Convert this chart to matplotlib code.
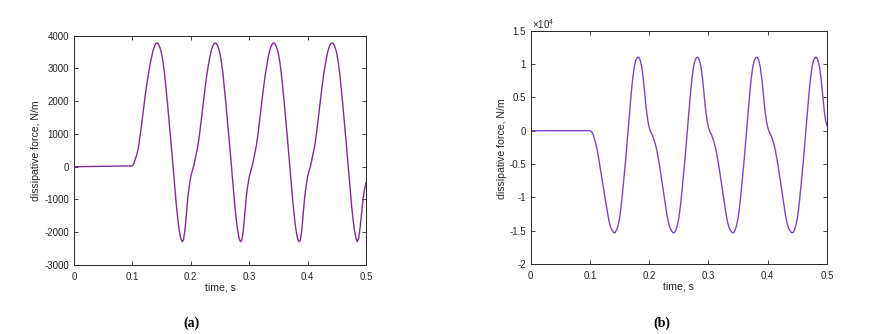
import numpy as np
import matplotlib
matplotlib.use("Agg")
import matplotlib.pyplot as plt
from matplotlib.ticker import FuncFormatter

plt.rcParams['font.family'] = ['Liberation Sans', 'DejaVu Sans']
plt.rcParams['mathtext.fontset'] = 'custom'
plt.rcParams['mathtext.rm'] = 'Liberation Sans'

# ---------------- data ----------------
time_flat = [0.0, 0.02, 0.04, 0.06, 0.08, 0.09, 0.095]
time_osc = np.round(np.arange(0.1, 0.50001, 0.0025), 4)
time = np.concatenate([time_flat, time_osc])

# (a) dissipative force, N/m
force_a_flat = [0, 5, 10, 15, 20, 22, 22]
force_a_c1 = [25, 100, 230, 370, 550, 860, 1180, 1540, 1900, 2250, 2560, 2840, 3100, 3320, 3520, 3670, 3760, 3780,
              3730, 3620, 3450, 3190, 2850, 2410, 1950, 1460, 960, 450, -80, -620, -1120, -1560, -1920, -2170,
              -2290, -2240, -1930, -1430, -930, -580]
force_a_c2 = [-300, -130, 20, 230, 450, 670, 990, 1360, 1740, 2120, 2480, 2810, 3090, 3340, 3540, 3680, 3760, 3780,
              3730, 3620, 3450, 3190, 2850, 2410, 1950, 1460, 960, 450, -80, -620, -1120, -1560, -1920, -2170,
              -2290, -2240, -1930, -1430, -930, -580]
force_a_c3 = [-310, -140, 20, 220, 440, 670, 980, 1350, 1740, 2120, 2480, 2800, 3090, 3340, 3540, 3680, 3760, 3780,
              3730, 3620, 3450, 3190, 2850, 2420, 1960, 1470, 960, 450, -80, -620, -1120, -1560, -1920, -2170,
              -2290, -2250, -1940, -1440, -930, -580]
force_a_c4 = [-300, -130, 20, 230, 450, 670, 990, 1360, 1740, 2120, 2480, 2810, 3090, 3340, 3540, 3680, 3760, 3780,
              3730, 3620, 3450, 3190, 2850, 2410, 1950, 1460, 960, 450, -80, -620, -1120, -1560, -1920, -2170,
              -2290, -2180, -1850, -1400, -980, -700, -480]
force_a = np.array(force_a_flat + force_a_c1 + force_a_c2 + force_a_c3 + force_a_c4, dtype=float)

# (b) dissipative force in units of 1e4 N/m
force_b_flat = [0, 0, 0, 0, 0, 0, 0]
force_b_c1 = [0.00, -0.01, -0.05, -0.12, -0.20, -0.30, -0.43, -0.57, -0.71, -0.84, -0.98, -1.12, -1.25, -1.37,
              -1.45, -1.50, -1.53, -1.53, -1.49, -1.42,
              -1.31, -1.14, -0.93, -0.70, -0.46, -0.20, 0.07, 0.34, 0.60, 0.81, 0.97, 1.06, 1.10, 1.10, 1.05,
              0.95, 0.78, 0.55, 0.33, 0.16]
force_b_c2 = [0.05, -0.02, -0.06, -0.12, -0.19, -0.28, -0.40, -0.53, -0.68, -0.84, -0.99, -1.14, -1.27, -1.38,
              -1.46, -1.50, -1.53, -1.53, -1.49, -1.42, -1.31, -1.14, -0.93, -0.70, -0.46, -0.20, 0.07, 0.34,
              0.60, 0.81, 0.97, 1.06, 1.10, 1.10, 1.05, 0.95, 0.78, 0.55, 0.33, 0.16]
force_b_c3 = [0.05, -0.02, -0.06, -0.12, -0.19, -0.28, -0.40, -0.53, -0.68, -0.84, -0.99, -1.14, -1.27, -1.38,
              -1.46, -1.50, -1.53, -1.53, -1.49, -1.42, -1.31, -1.14, -0.93, -0.70, -0.46, -0.20, 0.07, 0.34,
              0.60, 0.81, 0.97, 1.06, 1.10, 1.10, 1.05, 0.95, 0.78, 0.55, 0.33, 0.16]
force_b_c4 = [0.05, -0.02, -0.06, -0.12, -0.19, -0.28, -0.40, -0.53, -0.68, -0.84, -0.99, -1.14, -1.27, -1.38,
              -1.46, -1.50, -1.53, -1.53, -1.49, -1.42, -1.31, -1.14, -0.93, -0.70, -0.46, -0.20, 0.07, 0.34,
              0.60, 0.81, 0.97, 1.06, 1.10, 1.10, 1.05, 0.95, 0.78, 0.55, 0.33, 0.16, 0.07]
b_scale = 1e4
force_b = np.array(force_b_flat + force_b_c1 + force_b_c2 + force_b_c3 + force_b_c4, dtype=float) * b_scale

xticks = [0, 0.1, 0.2, 0.3, 0.4, 0.5]
yticks_a = [-3000, -2000, -1000, 0, 1000, 2000, 3000, 4000]
yticks_b = [-2e4, -1.5e4, -1e4, -0.5e4, 0, 0.5e4, 1e4, 1.5e4]
xlabel = "time, s"
ylabel = "dissipative force, N/m"

# ---------------- figure ----------------
W, H = 873, 334
fig = plt.figure(figsize=(W / 100, H / 100), dpi=100)
fig.patch.set_facecolor('white')

dark = '#262626'

def px_axes(l, t, r, b):
    return [l / W, 1 - b / H, (r - l) / W, (b - t) / H]

axa = fig.add_axes(px_axes(74, 35.7, 366, 265))
axb = fig.add_axes(px_axes(530.7, 30.7, 827, 264))

axa.plot(time, force_a, color='#7E2F8E', lw=1.0)
axb.plot(time, force_b, color='#7B45C9', lw=1.0)

def fmt_g(v, _):
    return f"{v:g}"

def fmt_b(v, _):
    return f"{v / b_scale:g}"

for ax, yt, ylim, fmt in [(axa, yticks_a, (-3000, 4000), fmt_g), (axb, yticks_b, (-2e4, 1.5e4), fmt_b)]:
    ax.set_xlim(0, 0.5)
    ax.set_ylim(*ylim)
    ax.set_xticks(xticks)
    ax.set_yticks(yt)
    ax.xaxis.set_major_formatter(FuncFormatter(fmt_g))
    ax.yaxis.set_major_formatter(FuncFormatter(fmt))
    ax.tick_params(direction='in', top=True, right=True, length=3, width=0.6,
                   labelsize=7.0, colors=dark)
    ax.tick_params(axis='x', pad=5)
    ax.tick_params(axis='y', pad=3.5)
    for s in ax.spines.values():
        s.set_linewidth(0.7)
        s.set_color(dark)
    ax.set_xlabel(xlabel, fontsize=7.6, color=dark)
    ax.set_ylabel(ylabel, fontsize=7.6, color=dark)

axa.xaxis.set_label_coords(0.5, -0.078)
axa.yaxis.set_label_coords(-0.113, 0.5)
axb.xaxis.set_label_coords(0.5, -0.077)
axb.yaxis.set_label_coords(-0.081, 0.496)

axb.text(0.004, 1.009, r'$\mathregular{\times10^{4}}$', transform=axb.transAxes,
         fontsize=7.0, color=dark, ha='left', va='baseline')

fig.text(192 / W, 1 - 323 / H, '(a)', ha='center', va='center',
         fontfamily='Liberation Serif', fontweight='bold', fontsize=10)
fig.text(662 / W, 1 - 323 / H, '(b)', ha='center', va='center',
         fontfamily='Liberation Serif', fontweight='bold', fontsize=10)

fig.savefig('out.png', dpi=100)
